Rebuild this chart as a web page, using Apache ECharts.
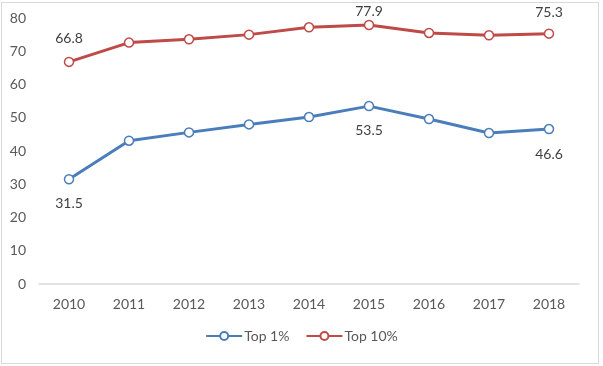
<!DOCTYPE html>
<html><head><meta charset="utf-8">
<script src="https://cdn.jsdelivr.net/npm/echarts@6/dist/echarts.min.js"></script>
<style>html,body{margin:0;padding:0;background:#fff}#c{width:603px;height:366px}
#frame{position:absolute;left:1px;top:2px;width:596px;height:360px;border:1px solid #d9d9d9;pointer-events:none}</style>
</head><body><div id="c"></div><div id="frame"></div>
<script>
var categories = ['2010','2011','2012','2013','2014','2015','2016','2017','2018'];
var top1 = [31.5, 43.1, 45.6, 48.0, 50.2, 53.5, 49.6, 45.4, 46.6];
var top10 = [66.8, 72.6, 73.6, 75.0, 77.2, 77.9, 75.5, 74.8, 75.3];
var labelIdx1 = {0:['bottom',12],5:['bottom',12],8:['bottom',13]};
var labelIdx10 = {0:['top',11],5:['top',1],8:['top',9]};
var FONT = 'Lato';
function mk(vals, idx){
  return vals.map(function(v,i){
    var o={value:v};
    if(idx[i]) o.label={show:true,position:idx[i][0],distance:idx[i][1]};
    return o;
  });
}
var chart = echarts.init(document.getElementById('c'));
chart.setOption({
  animation:false,
  grid:{left:39,right:24,top:18,bottom:82},
  legend:{bottom:18,left:'center',itemWidth:36,itemHeight:10,itemGap:16,
    textStyle:{fontSize:14,color:'#595959',fontFamily:FONT,padding:[0,0,0,-3]},
    data:['Top 1%','Top 10%']},
  xAxis:{type:'category',data:categories,boundaryGap:true,
    axisLine:{lineStyle:{color:'#d9d9d9',width:1.5}},axisTick:{show:false},
    axisLabel:{fontSize:14,color:'#595959',margin:13,fontFamily:FONT}},
  yAxis:{type:'value',min:0,max:80,interval:10,
    splitLine:{show:false},axisLine:{show:false},axisTick:{show:false},
    axisLabel:{fontSize:14,color:'#595959',margin:13,fontFamily:FONT}},
  series:[
    {name:'Top 1%',type:'line',data:mk(top1,labelIdx1),symbol:'circle',symbolSize:9,
     lineStyle:{color:'#4A7EBB',width:3},itemStyle:{color:'#fff',borderColor:'#4A7EBB',borderWidth:1.5},
     label:{show:false,fontSize:14,color:'#404040',fontFamily:FONT}},
    {name:'Top 10%',type:'line',data:mk(top10,labelIdx10),symbol:'circle',symbolSize:9,
     lineStyle:{color:'#BE4B48',width:3},itemStyle:{color:'#fff',borderColor:'#BE4B48',borderWidth:1.5},
     label:{show:false,fontSize:14,color:'#404040',fontFamily:FONT}}
  ]
});
</script></body></html>
